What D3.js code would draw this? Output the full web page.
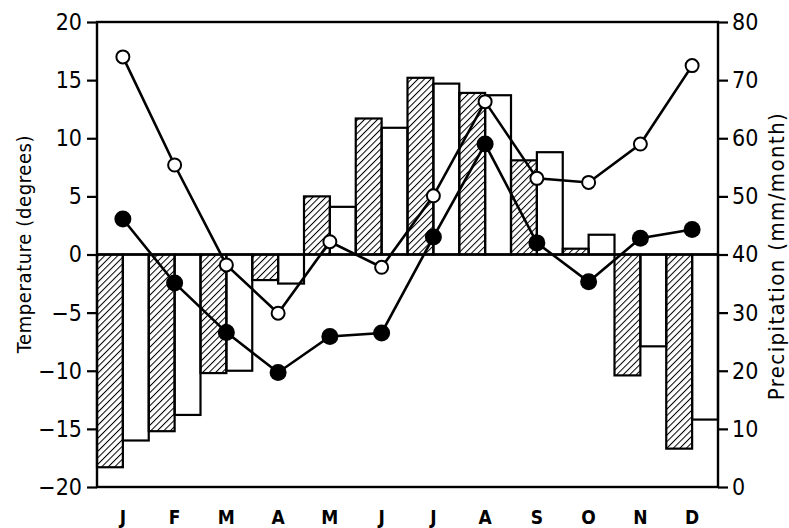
<!DOCTYPE html>
<html>
<head>
<meta charset="utf-8">
<script src="https://cdn.jsdelivr.net/npm/d3@7"></script>
<style>
  body { margin: 0; background: #fff; }
  svg { display: block; }
  .tick text { font-family: "Liberation Sans Narrow", "DejaVu Sans Condensed", sans-serif; }
</style>
</head>
<body>
<div id="chart"></div>
<script>
// months on the x axis
const months = ['J', 'F', 'M', 'A', 'M', 'J', 'J', 'A', 'S', 'O', 'N', 'D'];
// temperature bars (degrees), hatched and open
const tempHatched = [-18.3, -15.2, -10.2, -2.2, 5.0, 11.7, 15.2, 13.9, 8.1, 0.5, -10.4, -16.7];
const tempOpen = [-16.0, -13.8, -10.0, -2.5, 4.1, 10.9, 14.7, 13.7, 8.8, 1.7, -7.9, -14.2];
// precipitation lines (mm/month), open and filled circles
const precipOpen = [74.0, 55.4, 38.2, 29.9, 42.2, 37.8, 50.1, 66.3, 53.1, 52.4, 59.0, 72.5];
const precipFilled = [46.1, 35.1, 26.6, 19.7, 25.9, 26.5, 43.0, 59.0, 42.0, 35.3, 42.8, 44.3];
const tempTicks = [-20, -15, -10, -5, 0, 5, 10, 15, 20];
const precipTicks = [0, 10, 20, 30, 40, 50, 60, 70, 80];

const width = 789, height = 528;
const margin = { top: 22, right: 71, bottom: 41, left: 97 };
const w = width - margin.left - margin.right;
const h = height - margin.top - margin.bottom;

const svg = d3.select('#chart').append('svg')
  .attr('width', width)
  .attr('height', height);

// hatch pattern for the striped bars
svg.append('defs').append('pattern')
  .attr('id', 'hatch')
  .attr('patternUnits', 'userSpaceOnUse')
  .attr('width', 4.6)
  .attr('height', 4.6)
  .attr('patternTransform', 'rotate(45)')
  .append('line')
  .attr('x1', 0).attr('y1', 0)
  .attr('x2', 0).attr('y2', 4.6)
  .attr('stroke', '#000')
  .attr('stroke-width', 2);

const g = svg.append('g')
  .attr('transform', 'translate(' + margin.left + ',' + margin.top + ')');

const x = d3.scaleBand().domain(d3.range(months.length)).range([0, w]);
const yT = d3.scaleLinear().domain([-20, 20]).range([h, 0]);
const yP = d3.scaleLinear().domain([0, 80]).range([h, 0]);

// bars: hatched in left half of month, open in right half
g.selectAll('.bar-open').data(tempOpen).enter().append('rect')
  .attr('class', 'bar-open')
  .attr('x', (d, i) => x(i) + x.bandwidth() / 2)
  .attr('width', x.bandwidth() / 2)
  .attr('y', d => yT(Math.max(0, d)))
  .attr('height', d => Math.abs(yT(d) - yT(0)))
  .attr('fill', '#fff')
  .attr('stroke', '#000')
  .attr('stroke-width', 2.2);

g.selectAll('.bar-hatch').data(tempHatched).enter().append('rect')
  .attr('class', 'bar-hatch')
  .attr('x', (d, i) => x(i))
  .attr('width', x.bandwidth() / 2)
  .attr('y', d => yT(Math.max(0, d)))
  .attr('height', d => Math.abs(yT(d) - yT(0)))
  .attr('fill', 'url(#hatch)')
  .attr('stroke', '#000')
  .attr('stroke-width', 2.2);

// zero line
g.append('line')
  .attr('x1', 0).attr('x2', w)
  .attr('y1', yT(0)).attr('y2', yT(0))
  .attr('stroke', '#000')
  .attr('stroke-width', 2.4);

// frame
g.append('rect')
  .attr('width', w).attr('height', h)
  .attr('fill', 'none')
  .attr('stroke', '#000')
  .attr('stroke-width', 2.4);

const line = d3.line()
  .x((d, i) => x(i) + x.bandwidth() / 2)
  .y(d => yP(d));

[precipOpen, precipFilled].forEach(s => {
  g.append('path').datum(s)
    .attr('d', line)
    .attr('fill', 'none')
    .attr('stroke', '#000')
    .attr('stroke-width', 2.6);
});

g.selectAll('.dot-open').data(precipOpen).enter().append('circle')
  .attr('class', 'dot-open')
  .attr('cx', (d, i) => x(i) + x.bandwidth() / 2)
  .attr('cy', d => yP(d))
  .attr('r', 6.5)
  .attr('fill', '#fff')
  .attr('stroke', '#000')
  .attr('stroke-width', 2);

g.selectAll('.dot-filled').data(precipFilled).enter().append('circle')
  .attr('class', 'dot-filled')
  .attr('cx', (d, i) => x(i) + x.bandwidth() / 2)
  .attr('cy', d => yP(d))
  .attr('r', 8.5)
  .attr('fill', '#000');

// axes
const fmt = d => d < 0 ? '\u2212' + Math.abs(d) : String(d);

const axL = g.append('g')
  .call(d3.axisLeft(yT).tickValues(tempTicks).tickSize(10).tickPadding(5).tickFormat(fmt));
const axR = g.append('g')
  .attr('transform', 'translate(' + w + ',0)')
  .call(d3.axisRight(yP).tickValues(precipTicks).tickSize(10).tickPadding(4));
[axL, axR].forEach(a => {
  a.select('.domain').remove();
  a.selectAll('.tick line').attr('stroke-width', 2.2);
  a.selectAll('.tick text').attr('font-size', 23).attr('fill', '#000');
});

// month labels
g.selectAll('.month').data(months).enter().append('text')
  .attr('class', 'month')
  .attr('x', (d, i) => x(i) + x.bandwidth() / 2)
  .attr('y', h + 37)
  .attr('text-anchor', 'middle')
  .attr('font-family', '"Liberation Sans Narrow", "DejaVu Sans Condensed", sans-serif')
  .attr('font-weight', 'bold')
  .attr('font-size', 19)
  .text(d => d);

// axis titles
svg.append('text')
  .attr('transform', 'translate(31,244) rotate(-90)')
  .attr('text-anchor', 'middle')
  .attr('font-family', '"DejaVu Sans Condensed", sans-serif')
  .attr('font-size', 20)
  .attr('letter-spacing', 0.6)
  .text('Temperature (degrees)');

svg.append('text')
  .attr('transform', 'translate(784,256) rotate(-90)')
  .attr('text-anchor', 'middle')
  .attr('font-family', '"DejaVu Sans Condensed", sans-serif')
  .attr('font-size', 22)
  .attr('letter-spacing', 1.4)
  .text('Precipitation (mm/month)');
</script>
</body>
</html>
